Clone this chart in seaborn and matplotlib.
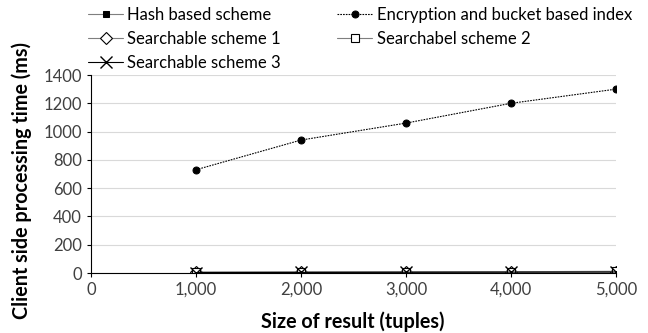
import matplotlib
matplotlib.use("Agg")
import matplotlib.pyplot as plt
import seaborn as sns
import pandas as pd

sizes = [1000, 2000, 3000, 4000, 5000]
hash_based = [5, 6, 7, 8, 9]
encryption_bucket = [730, 940, 1060, 1200, 1300]
searchable_1 = [4, 5, 6, 7, 8]
searchable_2 = [6, 7, 8, 9, 12]
searchable_3 = [3, 4, 5, 6, 7]

series = [
    ("Hash based scheme", hash_based, dict(color="#7f7f7f", lw=0.8, ls="-", marker="s", ms=4, mfc="black", mec="black")),
    ("Encryption and bucket based index", encryption_bucket, dict(color="black", lw=0.8, ls=(0, (1.5, 1)), marker="o", ms=5, mfc="black", mec="black")),
    ("Searchable scheme 1", searchable_1, dict(color="#7f7f7f", lw=0.8, ls="-", marker="D", ms=6, mfc="white", mec="black", mew=0.8)),
    ("Searchabel scheme 2", searchable_2, dict(color="#7f7f7f", lw=0.8, ls="-", marker="s", ms=6, mfc="white", mec="black", mew=0.8)),
    ("Searchable scheme 3", searchable_3, dict(color="black", lw=0.8, ls="-", marker="x", ms=8, mec="black", mew=1)),
]

sns.set_theme(style="white")
plt.rcParams["font.family"] = ["Lato", "DejaVu Sans"]

fig = plt.figure(figsize=(6.48, 3.33), dpi=100)
ax = fig.add_axes([91 / 648, 1 - 273 / 333, (616 - 91) / 648, (273 - 75) / 333])

for name, vals, st in series:
    df = pd.DataFrame({"x": sizes, "y": vals})
    sns.lineplot(data=df, x="x", y="y", ax=ax, label=name, **st)

ax.set_xlim(0, 5000)
ax.set_ylim(0, 1400)
ax.set_xticks([0, 1000, 2000, 3000, 4000, 5000])
ax.set_xticklabels(["0", "1,000", "2,000", "3,000", "4,000", "5,000"])
ax.set_yticks(range(0, 1401, 200))
ax.yaxis.grid(True, color="#d9d9d9", lw=0.8)
ax.set_axisbelow(True)
for s in ["top", "right"]:
    ax.spines[s].set_visible(False)
for s in ["left", "bottom"]:
    ax.spines[s].set_color("black")
    ax.spines[s].set_linewidth(0.8)
ax.tick_params(axis="both", labelsize=12, colors="#404040", length=3, direction="out", bottom=True, left=True, width=0.8)
ax.tick_params(axis="both", color="black")
ax.set_xlabel("Size of result (tuples)", fontsize=14.2, fontweight="bold", color="black")
ax.set_ylabel("Client side processing time (ms)", fontsize=14.2, fontweight="bold", color="black")
ax.xaxis.set_label_coords(0.499, -0.195)
ax.yaxis.set_label_coords(-0.112, 0.465)

handles, labels = ax.get_legend_handles_labels()
order = [0, 2, 4, 1, 3]
leg = fig.legend([handles[i] for i in order], [labels[i] for i in order],
                 loc="upper left", bbox_to_anchor=(88 / 648, 1 - 7 / 333), ncol=2, frameon=False,
                 fontsize=12, handlelength=2.1, handletextpad=0.25, columnspacing=3.4,
                 labelspacing=0.48, borderpad=0, borderaxespad=0)
for t in leg.get_texts():
    t.set_color("black")
ax.get_legend().remove()

fig.savefig("out.png", dpi=100)
